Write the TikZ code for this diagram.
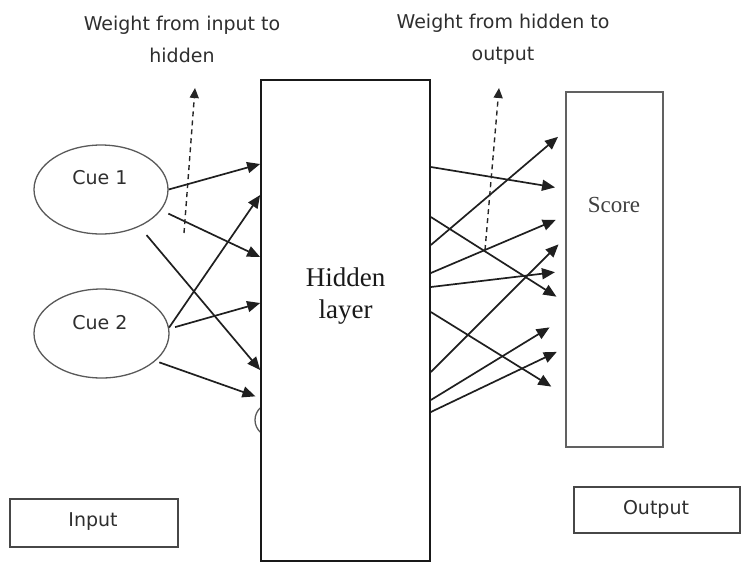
\documentclass[tikz,border=0pt]{standalone}
\usepackage{fontspec}
\setmainfont{Liberation Serif}
\newfontfamily\labelfont{DejaVu Sans}
\usetikzlibrary{arrows.meta,shapes.geometric}

\begin{document}
\begin{tikzpicture}[x=1pt,y=-1pt,
  wire/.style={line width=1.7pt, draw=black!88,
    -{Triangle[length=13pt,width=11pt]}},
  weightarrow/.style={line width=1.4pt, draw=black!85, dash pattern=on 5pt off 4pt,
    -{Triangle[length=10pt,width=9pt]}},
  cue/.style={ellipse, draw=black!65, line width=1.3pt, minimum width=134pt,
    minimum height=89pt, inner sep=0pt},
  framebox/.style={rectangle, draw=black!72, line width=1.7pt, inner sep=0pt},
  sanslabel/.style={font=\labelfont\fontsize{19}{32}\selectfont, text=black!82},
  seriflabel/.style={text=black!90}
]
\useasboundingbox (0,0) rectangle (743,571);

% partly hidden third input unit behind the hidden layer
\node[cue, minimum width=40pt, minimum height=36pt] (cue3) at (275,420) {};

% hidden layer block
\node[framebox, draw=black!90, fill=white, minimum width=169pt, minimum height=481pt]
  (hidden) at (345.5,320.5) {};
\node[seriflabel, align=center, font=\fontsize{27}{32}\selectfont] (hiddentext)
  at (345.5,296) {Hidden\\layer};

% output unit
\node[framebox, draw=black!62, line width=2.2pt, minimum width=97pt, minimum height=355pt]
  (score) at (614.5,269.5) {};
\node[seriflabel, font=\fontsize{23}{28}\selectfont, text=black!75] (scoretext)
  at (614,205) {Score};

% input units
\node[cue] (cue1) at (101,189.5) {};
\node[sanslabel] (cue1text) at (100,178) {Cue 1};
\node[cue, minimum width=135pt] (cue2) at (101.5,333.5) {};
\node[sanslabel] (cue2text) at (100,323) {Cue 2};

% legend boxes
\node[framebox, minimum width=168pt, minimum height=48pt] (inputbox) at (94,523) {};
\node[sanslabel] (inputtext) at (93,522) {Input};
\node[framebox, minimum width=166pt, minimum height=46pt] (outputbox) at (657,510) {};
\node[sanslabel] (outputtext) at (656,509) {Output};

% weight captions
\node[sanslabel, align=center] (w1text) at (182,39) {Weight from input to\\hidden};
\node[sanslabel, align=center] (w2text) at (503,39) {Weight from hidden to\\output};

% input -> hidden connections
\draw[wire] (cue1.east) -- (hidden.west |- 0,164);
\draw[wire, shorten <=8pt] (cue1.-19) -- (hidden.west |- 0,257);
\draw[wire, shorten <=11pt] (cue1.-44) -- (hidden.west |- 0,370);
\draw[wire] (cue2.5.6) -- (hidden.west |- 0,195);
\draw[wire, shorten <=6pt] (cue2.4.3) -- (hidden.west |- 0,303);
\draw[wire, shorten <=4pt, shorten >=5pt] (cue2.-27.6) -- (hidden.west |- 0,398);

% hidden -> output connections
\draw[wire, shorten >=10pt] (hidden.east |- 0,167) -- (score.west |- 0,189);
\draw[wire, shorten >=9pt]  (hidden.east |- 0,245) -- (score.west |- 0,131);
\draw[wire, shorten >=10pt] (hidden.east |- 0,217) -- (score.west |- 0,302);
\draw[wire, shorten >=10pt] (hidden.east |- 0,273) -- (score.west |- 0,216);
\draw[wire, shorten >=10pt] (hidden.east |- 0,287) -- (score.west |- 0,271);
\draw[wire, shorten >=9pt]  (hidden.east |- 0,372) -- (score.west |- 0,238);
\draw[wire, shorten >=16pt] (hidden.east |- 0,312) -- (score.west |- 0,395);
\draw[wire, shorten >=18pt] (hidden.east |- 0,400) -- (score.west |- 0,318);
\draw[wire, shorten >=9pt]  (hidden.east |- 0,412) -- (score.west |- 0,348);

% pointers to the weight captions
\coordinate (w1foot) at (184,233);
\coordinate (w1tip) at (195,88);
\coordinate (w2foot) at (485,250);
\coordinate (w2tip) at (499,88);
\draw[weightarrow] (w1foot) -- (w1tip);
\draw[weightarrow] (w2foot) -- (w2tip);
\end{tikzpicture}
\end{document}
